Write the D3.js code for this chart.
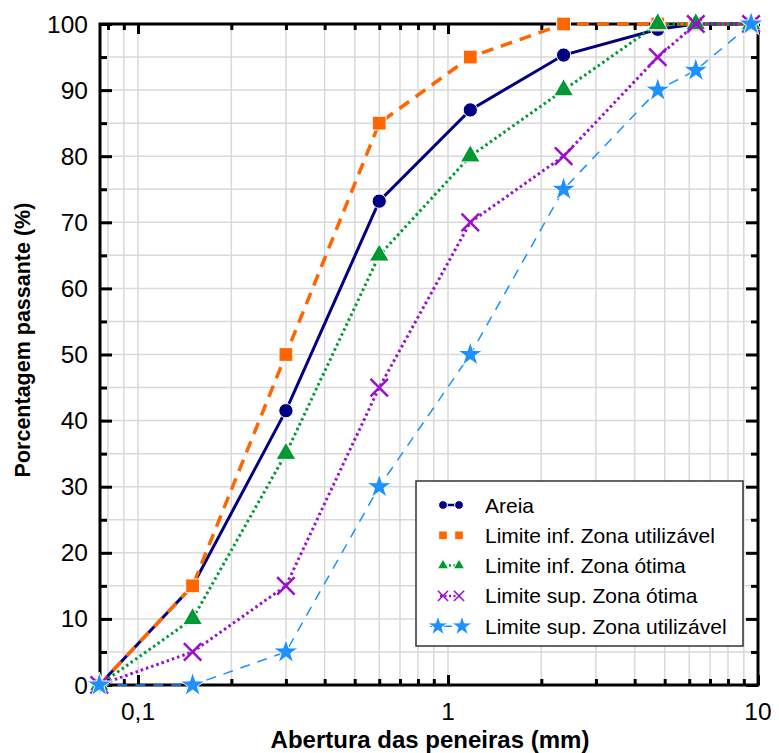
<!DOCTYPE html>
<html>
<head>
<meta charset="utf-8">
<script src="https://cdn.jsdelivr.net/npm/d3@7"></script>
<style>
  body { margin: 0; background: #fff; }
  text { font-family: "Liberation Sans", Arial, sans-serif; }
</style>
</head>
<body>
<svg id="chart" width="779" height="753"></svg>
<script>
// sieve openings (mm) and % passing
var peneiras = [0.075, 0.15, 0.3, 0.6, 1.18, 2.36, 4.75, 6.3, 9.5];
var areia = [0, 15, 41.5, 73.2, 87, 95.3, 99.2, 100, 100];
var infUtil = [0, 15, 50, 85, 95, 100, 100, 100, 100];
var infOtima = [0, 10, 35, 65, 80, 90, 100, 100, 100];
var supOtima = [0, 5, 15, 45, 70, 80, 95, 100, 100];
var supUtil = [0, 0, 5, 30, 50, 75, 90, 93, 100];

var xMajor = [0.1, 1, 10];
var xMinor = [0.08, 0.09, 0.2, 0.3, 0.4, 0.5, 0.6, 0.7, 0.8, 0.9, 2, 3, 4, 5, 6, 7, 8, 9];
var yMajor = [0, 10, 20, 30, 40, 50, 60, 70, 80, 90, 100];
var yMinor = [5, 15, 25, 35, 45, 55, 65, 75, 85, 95];

var series = [
  {name: "Areia", values: areia, color: "#000080", width: 3, dash: null, ldash: null, symbol: d3.symbolCircle, size: 160, lsize: 60},
  {name: "Limite inf. Zona utilizável", values: infUtil, color: "#ff6600", width: 3.5, dash: "12,8", ldash: "0,40", symbol: d3.symbolSquare, size: 190, lsize: 75},
  {name: "Limite inf. Zona ótima", values: infOtima, color: "#009933", width: 3, dash: "2.5,3", ldash: "2,2.5", symbol: d3.symbolTriangle, size: 170, lsize: 55},
  {name: "Limite sup. Zona ótima", values: supOtima, color: "#9a0fcc", width: 3, dash: "2.5,3", ldash: "2,2.5", symbol: d3.symbolTimes, size: 200, lsize: 70},
  {name: "Limite sup. Zona utilizável", values: supUtil, color: "#1e90ff", width: 1.5, dash: "10,8", ldash: "8,6", symbol: d3.symbolStar, size: 190, lsize: 130}
];

var W = 779, H = 753;
var m = {left: 100, right: 21, top: 24, bottom: 68};
var svg = d3.select("#chart");

var x = d3.scaleLog().domain([0.0754, 10]).range([m.left, W - m.right]);
var y = d3.scaleLinear().domain([0, 100]).range([H - m.bottom, m.top]);

// grid
var grid = svg.append("g").attr("stroke", "#d9d9d9").attr("stroke-width", 1.5);
grid.selectAll(".gx").data(xMajor.concat(xMinor)).enter().append("line")
  .attr("x1", function(d){ return x(d); }).attr("x2", function(d){ return x(d); })
  .attr("y1", m.top).attr("y2", H - m.bottom);
grid.selectAll(".gy").data(yMajor.concat(yMinor)).enter().append("line")
  .attr("y1", function(d){ return y(d); }).attr("y2", function(d){ return y(d); })
  .attr("x1", m.left).attr("x2", W - m.right);

// axes ticks (inward)
function tickAxis(axis, vals, size, tr) {
  var g = svg.append("g").attr("transform", tr)
    .call(axis.tickValues(vals).tickSizeInner(size).tickSizeOuter(0).tickFormat(""));
  g.select(".domain").remove();
  g.selectAll("line").attr("stroke", "#000").attr("stroke-width", 3);
  return g;
}
var b = "translate(0," + (H - m.bottom) + ")", t = "translate(0," + m.top + ")";
var l = "translate(" + m.left + ",0)", r = "translate(" + (W - m.right) + ",0)";
tickAxis(d3.axisBottom(x), xMajor, -10, b);
tickAxis(d3.axisBottom(x), xMinor, -6, b);
tickAxis(d3.axisTop(x), xMajor, -10, t);
tickAxis(d3.axisTop(x), xMinor, -6, t);
tickAxis(d3.axisLeft(y), yMajor, -12, l);
tickAxis(d3.axisLeft(y), yMinor, -7, l);
tickAxis(d3.axisRight(y), yMajor, -12, r);
tickAxis(d3.axisRight(y), yMinor, -7, r);

// frame
svg.append("rect").attr("x", m.left).attr("y", m.top)
  .attr("width", W - m.left - m.right).attr("height", H - m.top - m.bottom)
  .attr("fill", "none").attr("stroke", "#000").attr("stroke-width", 3);

// tick labels
svg.append("g").selectAll("text").data(xMajor).enter().append("text")
  .attr("x", function(d){ return x(d); }).attr("y", 720)
  .attr("text-anchor", "middle").attr("font-size", 24.5)
  .text(function(d){ return String(d).replace(".", ","); });
svg.append("g").selectAll("text").data(yMajor).enter().append("text")
  .attr("x", 88).attr("y", function(d){ return y(d) + 8.5; })
  .attr("text-anchor", "end").attr("font-size", 24.5)
  .text(function(d){ return d; });

// axis titles
svg.append("text").attr("x", 430).attr("y", 748).attr("text-anchor", "middle")
  .attr("font-size", 24).attr("font-weight", "bold").text("Abertura das peneiras (mm)");
svg.append("text").attr("transform", "translate(30,340) rotate(-90)").attr("text-anchor", "middle")
  .attr("font-size", 21.5).attr("font-weight", "bold").text("Porcentagem passante (%)");

// series
var line = d3.line().x(function(d){ return x(d[0]); }).y(function(d){ return y(d[1]); });
function pts(s) { return peneiras.map(function(p, i){ return [p, s.values[i]]; }); }
function styleMarker(sel, s) {
  if (s.symbol === d3.symbolTimes) {
    sel.attr("fill", "none").attr("stroke", s.color).attr("stroke-width", 2.5);
  } else {
    sel.attr("fill", s.color).attr("stroke", "#fff").attr("stroke-width", 1);
  }
}
series.forEach(function(s){
  var g = svg.append("g");
  g.append("path").datum(pts(s)).attr("d", line).attr("fill", "none")
    .attr("stroke", s.color).attr("stroke-width", s.width)
    .attr("stroke-dasharray", s.dash);
  var mk = g.selectAll("path.mk").data(pts(s)).enter().append("path").attr("class", "mk")
    .attr("transform", function(d){ return "translate(" + x(d[0]) + "," + y(d[1]) + ")"; })
    .attr("d", d3.symbol().type(s.symbol).size(s.size));
  styleMarker(mk, s);
});

// legend
var lg = svg.append("g");
lg.append("rect").attr("x", 416).attr("y", 481).attr("width", 327).attr("height", 165)
  .attr("fill", "#fff").attr("stroke", "#333").attr("stroke-width", 1.5);
series.forEach(function(s, i){
  var cy = 505 + i * 30.3;
  var x1 = s.symbol === d3.symbolStar ? 430 : 440, x2 = s.symbol === d3.symbolStar ? 470 : 462;
  lg.append("line").attr("x1", x1).attr("x2", x2).attr("y1", cy).attr("y2", cy)
    .attr("stroke", s.color).attr("stroke-width", Math.min(s.width, 2.5)).attr("stroke-dasharray", s.ldash);
  (s.symbol === d3.symbolStar ? [438, 462] : [443, 459]).forEach(function(px){
    var mk = lg.append("path").attr("transform", "translate(" + px + "," + cy + ")")
      .attr("d", d3.symbol().type(s.symbol).size(s.lsize));
    styleMarker(mk, s);
    if (s.symbol === d3.symbolTimes) mk.attr("stroke-width", 1.5);
  });
  lg.append("text").attr("x", 485).attr("y", cy + 7.5).attr("font-size", 21).text(s.name);
});
</script>
</body>
</html>
